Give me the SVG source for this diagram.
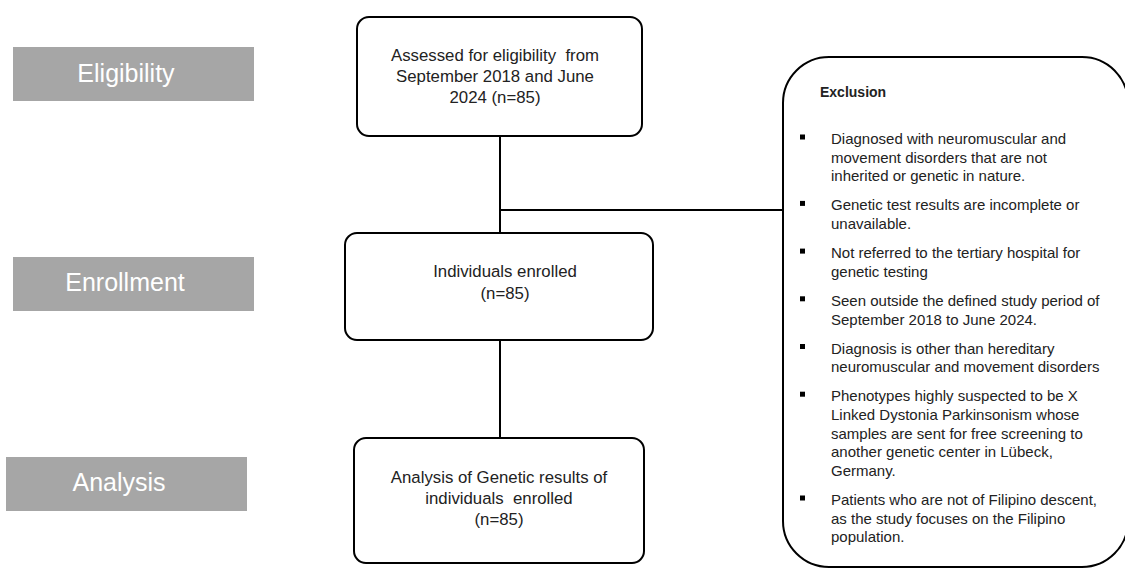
<svg xmlns="http://www.w3.org/2000/svg" width="1125" height="570" viewBox="0 0 1125 570">
<style>
.bg{fill:#ffffff}
.stage rect{fill:#a6a6a6}
.stage text{fill:#ffffff;font-family:"Liberation Sans",Arial,sans-serif;font-size:25px;text-anchor:middle}
.box{fill:#ffffff;stroke:#000000;stroke-width:2}
.bt{font-family:"Liberation Sans",Arial,sans-serif;font-size:16.8px;fill:#222222;text-anchor:middle}
.et{font-family:"Liberation Sans",Arial,sans-serif;font-size:15px;fill:#222222}
.eh{font-family:"Liberation Sans",Arial,sans-serif;font-size:14px;font-weight:bold;fill:#222222}
.bul{fill:#000000}
.conn{fill:none;stroke:#000000;stroke-width:2}
</style>
<rect class="bg" x="0" y="0" width="1125" height="570"/>
<g id="stage-eligibility" class="stage"><rect x="13" y="47" width="241" height="54"/><text x="126" y="82">Eligibility</text></g>
<g id="stage-enrollment" class="stage"><rect x="13" y="257" width="241" height="54"/><text x="125" y="291">Enrollment</text></g>
<g id="stage-analysis" class="stage"><rect x="6" y="457" width="241" height="54"/><text x="119" y="491">Analysis</text></g>
<g id="connectors">
<path class="conn" d="M500 136 V233"/>
<path class="conn" d="M500 210 H783"/>
<path class="conn" d="M500 340 V438"/>
</g>
<g id="node-assessed">
<rect class="box" x="357" y="17" width="285" height="119" rx="12"/>
<text class="bt" x="495" y="61" xml:space="preserve">Assessed for eligibility  from</text>
<text class="bt" x="495" y="82">September 2018 and June</text>
<text class="bt" x="495" y="103">2024 (n=85)</text>
</g>
<g id="node-enrolled">
<rect class="box" x="345" y="233" width="308" height="107" rx="12"/>
<text class="bt" x="505" y="277">Individuals enrolled</text>
<text class="bt" x="505" y="299">(n=85)</text>
</g>
<g id="node-analysis">
<rect class="box" x="354" y="438" width="290" height="125" rx="12"/>
<text class="bt" x="499" y="483">Analysis of Genetic results of</text>
<text class="bt" x="499" y="504" xml:space="preserve">individuals  enrolled</text>
<text class="bt" x="499" y="525">(n=85)</text>
</g>
<g id="node-exclusion">
<rect class="box" x="783" y="57" width="345" height="510" rx="46"/>
<text class="eh" x="820" y="97">Exclusion</text>
<rect class="bul" x="800" y="134.5" width="5" height="5"/>
<text class="et" x="831" y="144">Diagnosed with neuromuscular and</text>
<text class="et" x="831" y="162.7">movement disorders that are not</text>
<text class="et" x="831" y="181.4">inherited or genetic in nature.</text>
<rect class="bul" x="800" y="200.9" width="5" height="5"/>
<text class="et" x="831" y="210.4">Genetic test results are incomplete or</text>
<text class="et" x="831" y="229.1">unavailable.</text>
<rect class="bul" x="800" y="248.6" width="5" height="5"/>
<text class="et" x="831" y="258.1">Not referred to the tertiary hospital for</text>
<text class="et" x="831" y="276.8">genetic testing</text>
<rect class="bul" x="800" y="296.3" width="5" height="5"/>
<text class="et" x="831" y="305.8">Seen outside the defined study period of</text>
<text class="et" x="831" y="324.5">September 2018 to June 2024.</text>
<rect class="bul" x="800" y="344" width="5" height="5"/>
<text class="et" x="831" y="353.5">Diagnosis is other than hereditary</text>
<text class="et" x="831" y="372.2">neuromuscular and movement disorders</text>
<rect class="bul" x="800" y="391.7" width="5" height="5"/>
<text class="et" x="831" y="401.2">Phenotypes highly suspected to be X</text>
<text class="et" x="831" y="419.9">Linked Dystonia Parkinsonism whose</text>
<text class="et" x="831" y="438.6">samples are sent for free screening to</text>
<text class="et" x="831" y="457.3">another genetic center in Lübeck,</text>
<text class="et" x="831" y="476">Germany.</text>
<rect class="bul" x="800" y="495.5" width="5" height="5"/>
<text class="et" x="831" y="505">Patients who are not of Filipino descent,</text>
<text class="et" x="831" y="523.7">as the study focuses on the Filipino</text>
<text class="et" x="831" y="542.4">population.</text>
</g>
</svg>
